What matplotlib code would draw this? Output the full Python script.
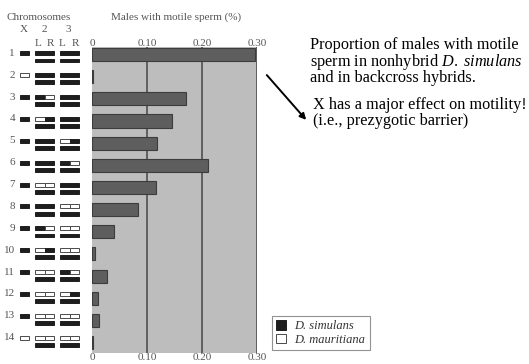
import matplotlib
matplotlib.use("Agg")
import matplotlib.pyplot as plt
from matplotlib.patches import Rectangle, Patch, FancyArrowPatch

plt.rcParams["mathtext.fontset"] = "custom"
plt.rcParams["mathtext.rm"] = "Liberation Serif"
plt.rcParams["mathtext.it"] = "Liberation Serif:italic"

# Proportion of males with motile sperm for each genotype class
lines = [1, 2, 3, 4, 5, 6, 7, 8, 9, 10, 11, 12, 13, 14]
motile = [0.297, 0.002, 0.171, 0.145, 0.119, 0.210, 0.117,
          0.084, 0.040, 0.005, 0.028, 0.010, 0.013, 0.002]

# Chromosome composition (S = D. simulans, M = D. mauritiana)
x_chrom = ["S", "M", "S", "S", "S", "S", "S", "S", "S", "S", "S", "S", "S", "M"]
chrom2 = ["SS", "SS", "SM", "MS", "SS", "SS", "MM", "SS", "SM", "MS", "MM", "MM", "MM", "MM"]
chrom3 = ["SS", "SS", "SS", "SS", "MS", "SM", "SS", "MM", "MM", "MM", "SM", "MS", "MM", "MM"]

xticks = [0, 0.10, 0.20, 0.30]
xtick_labels = ["0", "0.10", "0.20", "0.30"]

note_lines = ["Proportion of males with motile",
              "sperm in nonhybrid $\\it{D.\\ simulans}$",
              "and in backcross hybrids."]
remark_lines = ["X has a major effect on motility!",
                "(i.e., prezygotic barrier)"]

W, H = 529, 364
fig = plt.figure(figsize=(W / 100, H / 100), dpi=100)

SERIF = ["Liberation Serif", "DejaVu Serif"]
GREY_TXT = "#555555"


def fx(px):
    return px / W


def fy(py):
    return 1 - py / H


# ---- bar panel ----
ax_l, ax_r, ax_t, ax_b = 92, 257, 47, 353
ax = fig.add_axes([fx(ax_l), fy(ax_b), fx(ax_r - ax_l), (ax_b - ax_t) / H])
ax.set_facecolor("#bdbdbd")
ypos = list(range(len(lines)))
ax.barh(ypos, motile, height=0.59, color="#5e5e5e", edgecolor="#3c3c3c",
        linewidth=0.8, zorder=3)
for v in xticks[1:]:
    ax.axvline(v, color="#585858", linewidth=1.3, zorder=2)
ax.set_xlim(0, 0.30)
ax.set_ylim(13.474, -0.339)
for s in ax.spines.values():
    s.set_visible(False)
ax.set_yticks([])
ax.set_xticks([])

for v, lab in zip(xticks, xtick_labels):
    xp = ax_l + v / 0.30 * (ax_r - ax_l)
    fig.text(fx(xp), fy(43), lab, ha="center", va="center", fontsize=8,
             family=SERIF, color=GREY_TXT)
    fig.text(fx(xp), fy(357), lab, ha="center", va="center", fontsize=8,
             family=SERIF, color=GREY_TXT)

# ---- chromosome panel ----
gl = fig.add_axes([0, fy(ax_b), fx(ax_l), (ax_b - ax_t) / H])
gl.set_xlim(0, ax_l)
gl.set_ylim(13.70, -0.288)
gl.axis("off")

BLACK = "#1e1e1e"
EDGE = "#4a4a4a"
bh = 0.18          # chromosome bar thickness (rows)
low = 0.33         # offset of the lower homolog (rows)


def seg(x0, x1, y, state):
    fc = BLACK if state == "S" else "white"
    ec = BLACK if state == "S" else EDGE
    gl.add_patch(Rectangle((x0, y - bh / 2), x1 - x0, bh, facecolor=fc,
                           edgecolor=ec, linewidth=0.7))


def arm_pair(x0, x1, y, arms):
    mid = (x0 + x1) / 2
    if arms == "SS":
        seg(x0, x1, y, "S")
    else:
        seg(x0, mid, y, arms[0])
        seg(mid, x1, y, arms[1])
    seg(x0, x1, y + low, "S")


for i, n in enumerate(lines):
    gl.text(15, i, str(n), ha="right", va="center", fontsize=8,
            family=SERIF, color=GREY_TXT)
    seg(19.5, 29, i, x_chrom[i])
    arm_pair(35, 54.3, i, chrom2[i])
    arm_pair(60, 79.3, i, chrom3[i])

# ---- headers ----
fig.text(fx(39), fy(17), "Chromosomes", ha="center", va="center", fontsize=8,
         family=SERIF, color=GREY_TXT)
for xp, lab in [(24, "X"), (44, "2"), (68, "3")]:
    fig.text(fx(xp), fy(30), lab, ha="center", va="center", fontsize=8,
             family=SERIF, color=GREY_TXT)
for xp, lab in [(38.5, "L"), (50.5, "R"), (62.5, "L"), (75, "R")]:
    fig.text(fx(xp), fy(43), lab, ha="center", va="center", fontsize=8,
             family=SERIF, color=GREY_TXT)
fig.text(fx(176), fy(17), "Males with motile sperm (%)", ha="center",
         va="center", fontsize=8, family=SERIF, color=GREY_TXT)

# ---- legend ----
handles = [Patch(facecolor=BLACK, edgecolor=BLACK, linewidth=0.7),
           Patch(facecolor="white", edgecolor=EDGE, linewidth=0.7)]
leg = fig.legend(handles, ["D. simulans", "D. mauritiana"],
                 loc="lower left", bbox_to_anchor=(fx(272), fy(350)),
                 bbox_transform=fig.transFigure, frameon=True, fancybox=False,
                 handlelength=0.75, handleheight=0.75, handletextpad=0.7,
                 borderpad=0.35, labelspacing=0.1, borderaxespad=0,
                 prop={"family": SERIF, "style": "italic", "size": 9})
leg.get_frame().set_edgecolor("#777777")
leg.get_frame().set_linewidth(0.8)
for t in leg.get_texts():
    t.set_color("#333333")

# ---- annotations ----
for k, s in enumerate(note_lines):
    fig.text(fx(310), fy(45 + 16.5 * k), s, ha="left", va="center",
             fontsize=11.7, family=SERIF, color="black")
for k, s in enumerate(remark_lines):
    fig.text(fx(313), fy(105 + 16.5 * k), s, ha="left", va="center",
             fontsize=11.7, family=SERIF, color="black")
fig.add_artist(FancyArrowPatch(
    (fx(265), fy(73)), (fx(308), fy(122)), transform=fig.transFigure,
    arrowstyle="-|>", mutation_scale=9, color="black", linewidth=1.4))

fig.savefig("out.png", dpi=100)
